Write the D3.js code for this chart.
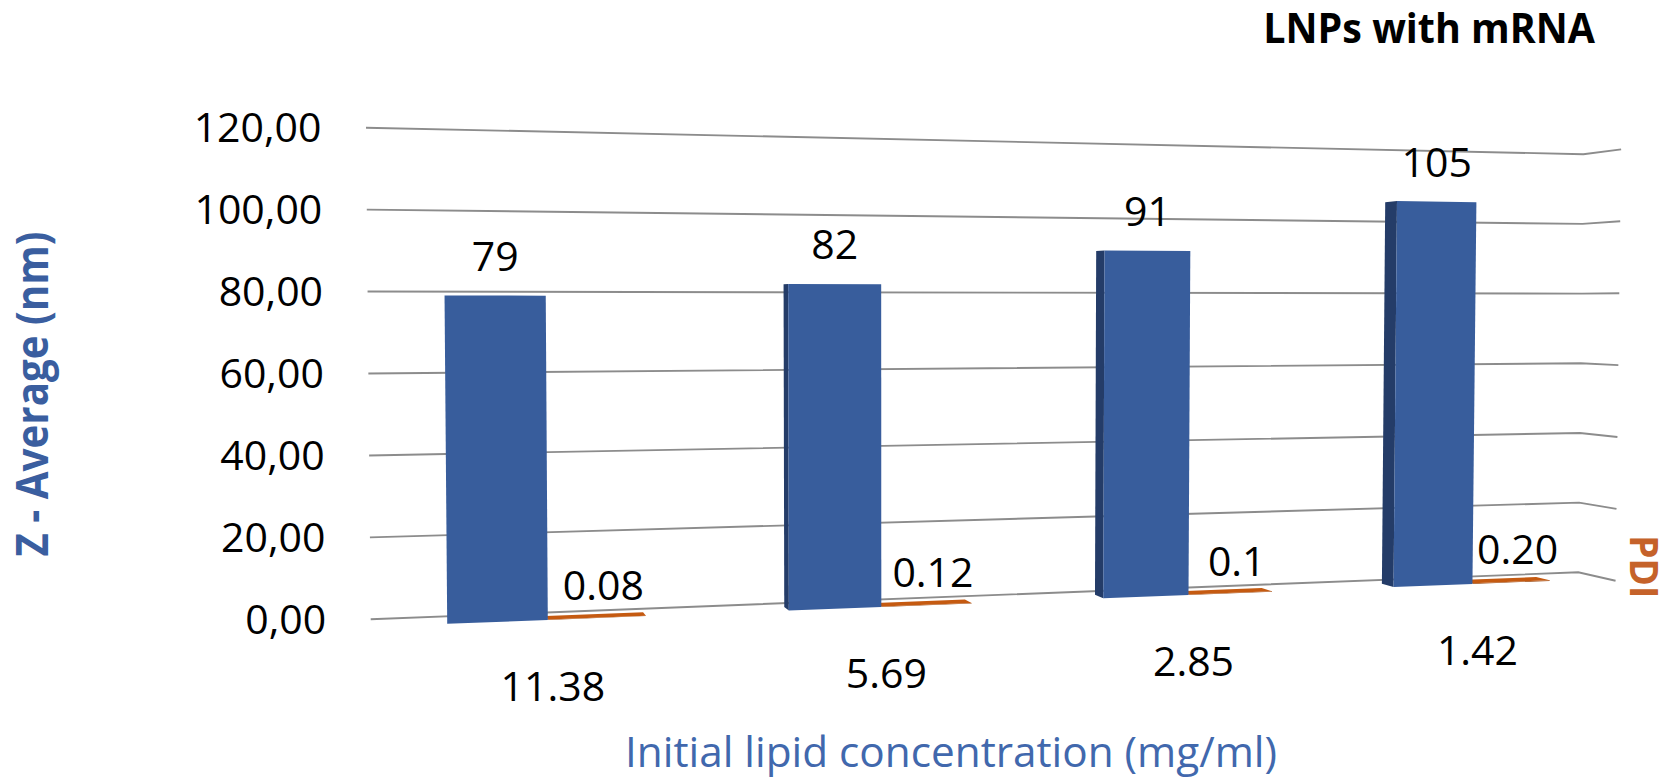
<!DOCTYPE html>
<html>
<head>
<meta charset="utf-8">
<script src="https://cdn.jsdelivr.net/npm/d3@7"></script>
<style>
  html, body { margin: 0; padding: 0; background: #ffffff; }
  svg { display: block; }
  text { font-family: "Open Sans", "Noto Sans", sans-serif; }
</style>
</head>
<body>
<svg id="chart" width="1678" height="780"></svg>
<script>
// ---- data ----
const categories = ["11.38", "5.69", "2.85", "1.42"];
const zAverage = [79, 82, 91, 105];
const pdiText = ["0.08", "0.12", "0.1", "0.20"];
const pdi = pdiText.map(Number);
const yTicks = [0, 20, 40, 60, 80, 100, 120];
const seriesKeys = ["z", "pdi"];

// ---- perspective set-up ----
const HORIZON = 305;            // eye-level y
const DEPTH_VX = 395;           // vanishing x for depth
const VERT_VX = 900, VERT_C = 1.8e-5;   // slight convergence of verticals
const WALL_X0 = 367.7, WALL_D = 356.8, WALL_G = 0.04395;
const DEPTH = { wall: 1, back: 1.012, front: 1.024, side: 1.0317 };

const COLORS = {
  barFront: "#385d9c",
  barSide: "#243c68",
  pdiTop: "#c55a11",
  pdiFront: "#9c470d",
  grid: "#8c8c8c",
  zTitle: "#3a5e9f",
  xTitle: "#4168ad",
  pdiTitle: "#c5622a"
};

const svg = d3.select("#chart");

// value -> y at the left edge of the back wall
const yLeft = d3.scaleLinear().domain([0, 120]).range([619.3, 127.7]);
// category -> position along the wall (one unit per category)
const xBand = d3.scaleBand().domain(categories).range([0, 4]).paddingInner(0).paddingOuter(0);
// series inside one category, gap width 150 %
const xSub = d3.scaleBand().domain(seriesKeys).range([0, xBand.bandwidth()])
  .paddingInner(0).paddingOuter(0.75);

// (position along wall, value, depth factor) -> screen point
function project(w, v, m) {
  const s = 1 / (1 + WALL_G * w);
  let x = WALL_X0 + WALL_D * w * s;
  let y = HORIZON + (yLeft(v) - HORIZON) * s;
  x = DEPTH_VX + (x - DEPTH_VX) * m;
  y = HORIZON + (y - HORIZON) * m;
  x = VERT_VX + (x - VERT_VX) * (1 - VERT_C * (y - HORIZON));
  return [x, y];
}
const poly = pts => "M" + pts.map(p => p[0].toFixed(2) + "," + p[1].toFixed(2)).join("L") + "Z";

const NUM_FS = 41;
const capMid = fs => 0.357 * fs;   // baseline offset that centres digits on a y

const tickFmt = d3.formatLocale({ decimal: ",", thousands: ".", grouping: [3], currency: ["", ""] }).format(".2f");

// ---- back wall gridlines + side return ----
const gGrid = svg.append("g");
yTicks.forEach(v => {
  const a = project(0, v, DEPTH.wall);
  const b = project(4, v, DEPTH.wall);
  const c = project(4, v, DEPTH.side);
  gGrid.append("path")
    .attr("d", `M${a[0]},${a[1]}L${b[0]},${b[1]}L${c[0]},${c[1]}`)
    .attr("fill", "none")
    .attr("stroke", COLORS.grid)
    .attr("stroke-width", 1.9);
});

// ---- value axis labels ----
const gTicks = svg.append("g");
yTicks.forEach(v => {
  const a = project(0, v, DEPTH.wall);
  gTicks.append("text")
    .attr("x", a[0] - 44.5)
    .attr("y", a[1] + capMid(NUM_FS))
    .attr("text-anchor", "end")
    .attr("font-size", NUM_FS)
    .attr("fill", "#000")
    .text(tickFmt(v));
});

// ---- columns ----
const gBars = svg.append("g");
categories.forEach((cat, i) => {
  // PDI slab (drawn first so the neighbouring column covers its back corner)
  const p0 = xBand(cat) + xSub("pdi"), p1 = p0 + xSub.bandwidth();
  const pv = pdi[i];
  gBars.append("path")
    .attr("d", poly([project(p0, 0, DEPTH.front), project(p1, 0, DEPTH.front),
                     project(p1, pv, DEPTH.front), project(p0, pv, DEPTH.front)]))
    .attr("fill", COLORS.pdiFront);
  gBars.append("path")
    .attr("d", poly([project(p0, pv, DEPTH.front), project(p1, pv, DEPTH.front),
                     project(p1, pv, DEPTH.back), project(p0, pv, DEPTH.back)]))
    .attr("fill", COLORS.pdiTop);

  // Z-average column
  const w0 = xBand(cat) + xSub("z"), w1 = w0 + xSub.bandwidth();
  const v = zAverage[i];
  const fl = project(w0, 0, DEPTH.front), bl = project(w0, 0, DEPTH.back);
  if (fl[0] - bl[0] > 1.5) {   // left face only where it shows
    gBars.append("path")
      .attr("d", poly([fl, project(w0, v, DEPTH.front), project(w0, v, DEPTH.back), bl]))
      .attr("fill", COLORS.barSide);
  }
  gBars.append("path")
    .attr("d", poly([fl, project(w1, 0, DEPTH.front),
                     project(w1, v, DEPTH.front), project(w0, v, DEPTH.front)]))
    .attr("fill", COLORS.barFront);
});

// ---- data labels ----
const gLabels = svg.append("g").attr("font-size", NUM_FS).attr("fill", "#000");
categories.forEach((cat, i) => {
  const w0 = xBand(cat) + xSub("z"), w1 = w0 + xSub.bandwidth();
  const a = project(w0, zAverage[i], DEPTH.front), b = project(w1, zAverage[i], DEPTH.front);
  gLabels.append("text")
    .attr("x", (a[0] + b[0]) / 2)
    .attr("y", (a[1] + b[1]) / 2 - 39.5 + capMid(NUM_FS))
    .attr("text-anchor", "middle")
    .text(zAverage[i]);

  const p0 = xBand(cat) + xSub("pdi"), p1 = p0 + xSub.bandwidth();
  const c = project(p0, pdi[i], DEPTH.front), d = project(p1, pdi[i], DEPTH.front);
  gLabels.append("text")
    .attr("x", (c[0] + d[0]) / 2 + 6.5)
    .attr("y", (c[1] + d[1]) / 2 - 32 + capMid(NUM_FS))
    .attr("text-anchor", "middle")
    .text(pdiText[i]);

  // category label under the floor edge
  const e = project(xBand(cat) + xBand.bandwidth() / 2, 0, DEPTH.front);
  gLabels.append("text")
    .attr("x", e[0] + 5)
    .attr("y", e[1] + 66.7 + capMid(NUM_FS))
    .attr("text-anchor", "middle")
    .text(cat);
});

// ---- titles ----
svg.append("text")
  .attr("x", 1263.3).attr("y", 42.7)
  .attr("font-size", 41).attr("font-weight", 700).attr("fill", "#000")
  .attr("textLength", 331.7).attr("lengthAdjust", "spacingAndGlyphs")
  .text("LNPs with mRNA");

svg.append("text")
  .attr("transform", "translate(48.3,394) rotate(-90)")
  .attr("text-anchor", "middle")
  .attr("font-size", 44).attr("font-weight", 700).attr("fill", COLORS.zTitle)
  .attr("textLength", 325).attr("lengthAdjust", "spacingAndGlyphs")
  .text("Z - Average (nm)");

svg.append("text")
  .attr("transform", "translate(1630,566.7) rotate(90)")
  .attr("text-anchor", "middle")
  .attr("font-family", "'Liberation Sans', Arial, sans-serif")
  .attr("font-size", 40).attr("font-weight", 700).attr("fill", COLORS.pdiTitle)
  .attr("textLength", 63).attr("lengthAdjust", "spacingAndGlyphs")
  .text("PDI");

svg.append("text")
  .attr("x", 625).attr("y", 767)
  .attr("font-size", 42.5).attr("fill", COLORS.xTitle)
  .attr("textLength", 652).attr("lengthAdjust", "spacingAndGlyphs")
  .text("Initial lipid concentration (mg/ml)");
</script>
</body>
</html>
